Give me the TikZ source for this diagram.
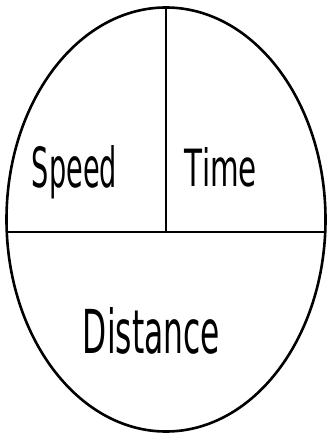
\documentclass[tikz,border=0pt]{standalone}
\usepackage{graphicx}
\usepackage{fontspec}
\setsansfont{DejaVu Sans}
\usetikzlibrary{shapes.geometric, positioning, calc}
\tikzset{
  oval/.style={ellipse, draw=black, line width=2.6pt, inner sep=0pt,
    minimum width=319pt, minimum height=424pt},
  divider/.style={draw=black, line width=2.4pt},
  word/.style={anchor=base, inner sep=0pt, font=\sffamily}
}
% squeeze a word into a given width and height
\newcommand{\handword}[3]{\resizebox{#1}{#2}{#3}}

\begin{document}
\begin{tikzpicture}[x=1pt, y=-1pt]
  \useasboundingbox (0,0) rectangle (327,435);
  \node[oval] (oval) at (166,219.5) {};
  \coordinate (hleft) at (6.8,232);
  \coordinate (hright) at (325.2,232);
  \coordinate (vfoot) at (oval.north |- hleft);
  \draw[divider] (hleft) -- (hright);
  \draw[divider] (oval.north) -- (vfoot);
  \node[word] (speed) at (74.5,188) {\handword{85pt}{42pt}{Speed}};
  \node[word] (time) at (221,187) {\handword{72pt}{39pt}{Time}};
  \node[word] (dist) at (151.5,353) {\handword{137pt}{46pt}{Distance}};
\end{tikzpicture}
\end{document}
